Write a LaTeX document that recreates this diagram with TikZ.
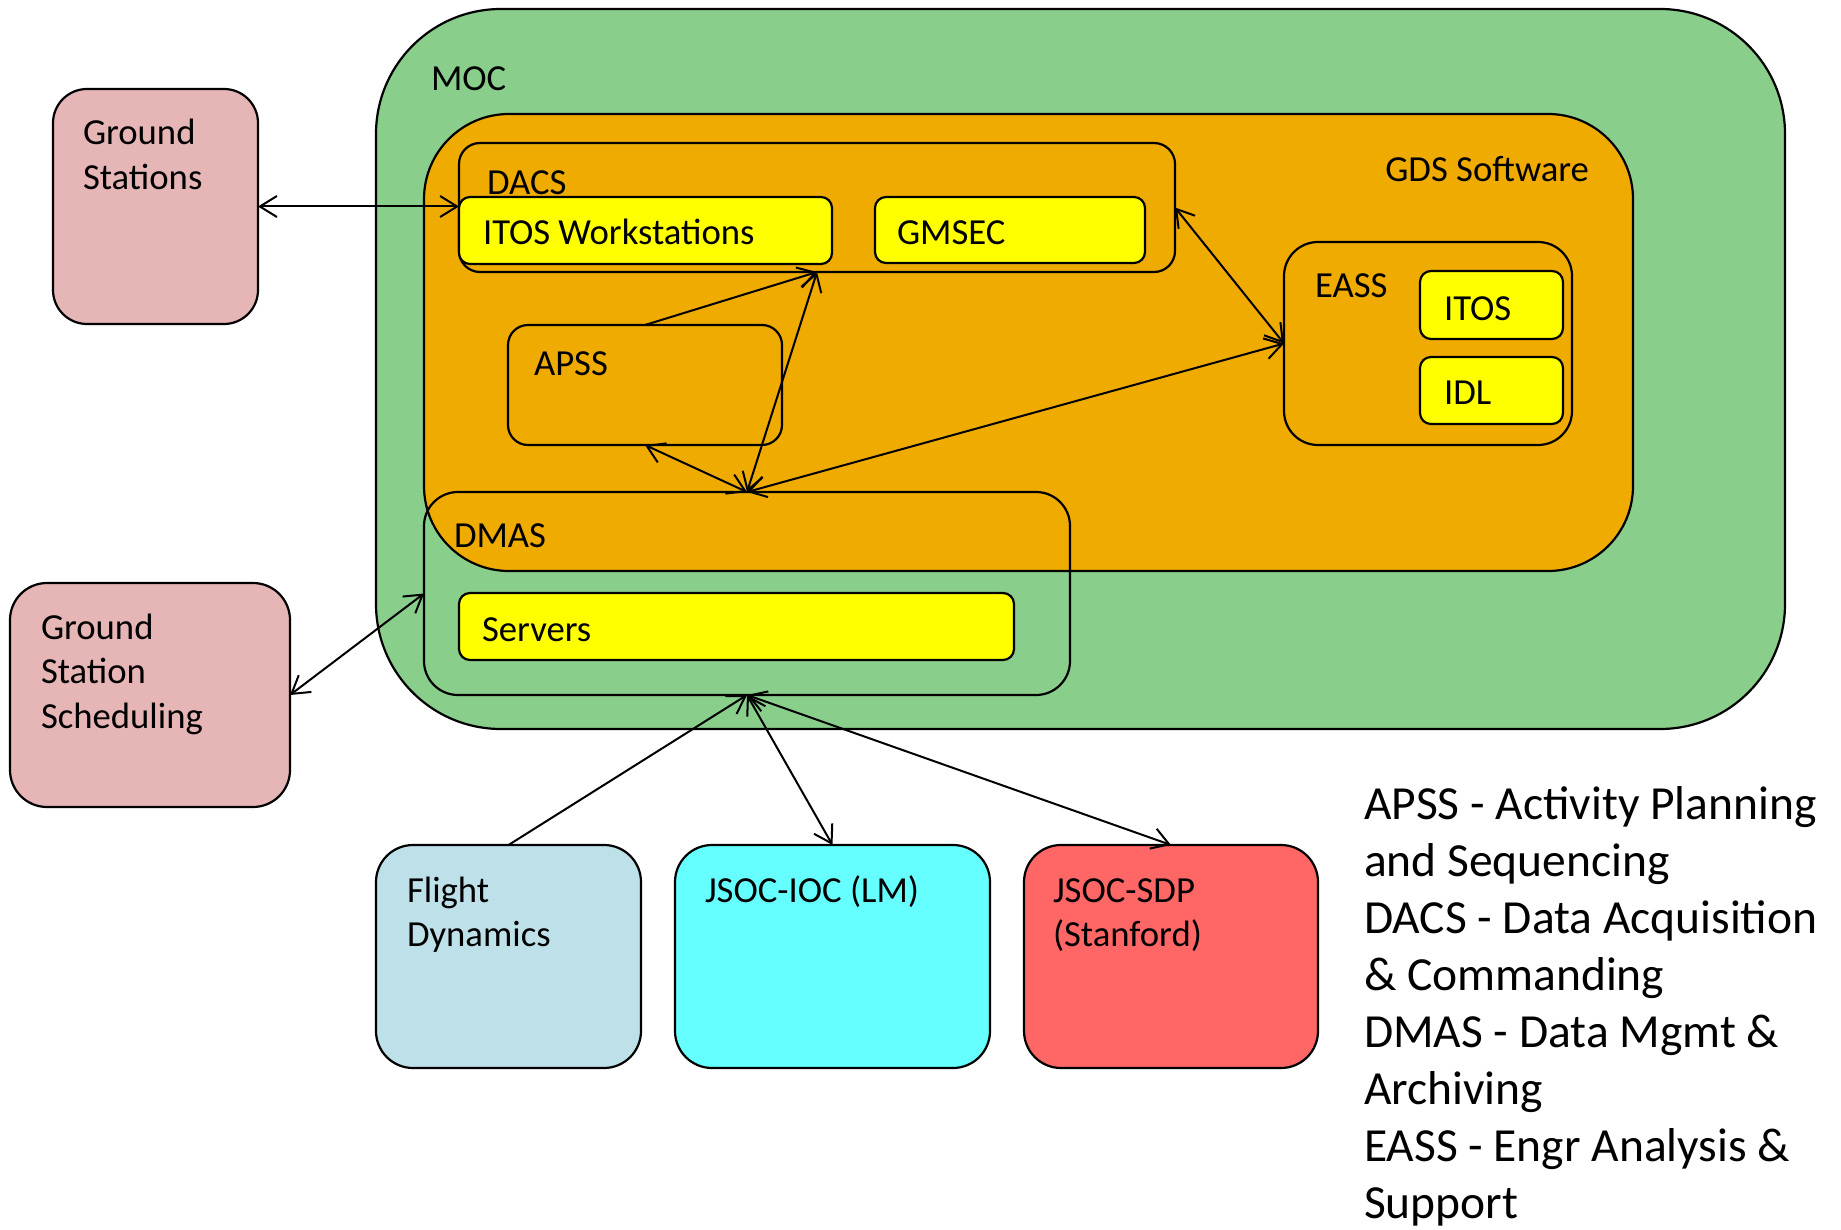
\documentclass[tikz,border=0pt]{standalone}
\usepackage{fontspec}
\setmainfont{Carlito}
\usetikzlibrary{arrows.meta}
\definecolor{mocgreen}{HTML}{8ACE8C}
\definecolor{gdsorange}{HTML}{F0AB00}
\definecolor{boxyellow}{HTML}{FFFF00}
\definecolor{pinkbox}{HTML}{E6B5B5}
\definecolor{fdblue}{HTML}{BEE0E9}
\definecolor{ioccyan}{HTML}{66FFFF}
\definecolor{sdpred}{HTML}{FF6666}
\begin{document}
\begin{tikzpicture}[x=1pt,y=-1pt,
  box/.style={draw=black, line width=2.2pt, rounded corners=#1, inner sep=0pt, outer sep=0pt, shape=rectangle},
  lbl/.style={anchor=base west, inner sep=0pt, outer sep=0pt, font=\fontsize{36.7pt}{44.8pt}\selectfont},
  lblr/.style={lbl, anchor=base east},
  lgd/.style={anchor=base west, inner sep=0pt, outer sep=0pt, font=\fontsize{47.5pt}{57.1pt}\selectfont},
  link/.style={line width=2pt, >={Straight Barb[length=17pt,width=21pt]}}
]
\useasboundingbox (0,0) rectangle (1841,1230);

% containers
\node[box=125pt, fill=mocgreen, minimum width=1409pt, minimum height=720pt] (moc) at (1080.5,369) {};
\node[box=85pt, fill=gdsorange, minimum width=1209pt, minimum height=457pt] (gds) at (1028.5,342.5) {};
\node[box=21pt, minimum width=716pt, minimum height=129pt] (dacs) at (817,207.5) {};
\node[box=11pt, fill=boxyellow, minimum width=373pt, minimum height=67pt] (itosws) at (645.5,230.5) {};
\node[box=11pt, fill=boxyellow, minimum width=270pt, minimum height=66pt] (gmsec) at (1010,230) {};
\node[box=20pt, minimum width=274pt, minimum height=120pt] (apss) at (645,385) {};
\node[box=34pt, minimum width=288pt, minimum height=203pt] (eass) at (1428,343.5) {};
\node[box=11pt, fill=boxyellow, minimum width=143pt, minimum height=68pt] (itos) at (1491.5,305) {};
\node[box=11pt, fill=boxyellow, minimum width=143pt, minimum height=67pt] (idl) at (1491.5,390.5) {};
\node[box=34pt, minimum width=646pt, minimum height=203pt] (dmas) at (747,593.5) {};
\node[box=11pt, fill=boxyellow, minimum width=555pt, minimum height=67pt] (servers) at (736.5,626.5) {};

% outside boxes
\node[box=34pt, fill=pinkbox, minimum width=205pt, minimum height=235pt] (gs) at (155.5,206.5) {};
\node[box=37pt, fill=pinkbox, minimum width=280pt, minimum height=224pt] (gss) at (150,695) {};
\node[box=37pt, fill=fdblue, minimum width=265pt, minimum height=223pt] (fd) at (508.5,956.5) {};
\node[box=37pt, fill=ioccyan, minimum width=315pt, minimum height=223pt] (ioc) at (832.5,956.5) {};
\node[box=37pt, fill=sdpred, minimum width=294pt, minimum height=223pt] (sdp) at (1171,956.5) {};

% connectors
\draw[link,<->] (gs.east) -- (dacs.west |- gs.east);
\draw[link,->] (apss.north) -- (dacs.south);
\draw[link,<->] (dacs.south) -- (dmas.north);
\draw[link,<->] (apss.south) -- (dmas.north);
\draw[link,<->] (dmas.north) -- (eass.west);
\draw[link,<->] (dacs.east) -- (eass.west);
\draw[link,<->] (gss.east) -- (dmas.west);
\draw[link,->] (fd.north) -- (dmas.south);
\draw[link,<->] (dmas.south) -- (ioc.north);
\draw[link,<->] (dmas.south) -- (sdp.north);

% labels
\node[lbl] (moclbl) at (431,91) {MOC};
\node[lblr] (gdslbl) at (1589,181.5) {GDS Software};
\node[lbl] (dacslbl) at (487,195) {DACS};
\node[lbl] (itoswslbl) at (483,245) {ITOS Workstations};
\node[lbl] (gmseclbl) at (897,245) {GMSEC};
\node[lbl] (apsslbl) at (534,375) {APSS};
\node[lbl] (easslbl) at (1315,297.5) {EASS};
\node[lbl] (itoslbl) at (1444,320.5) {ITOS};
\node[lbl] (idllbl) at (1444,404.5) {IDL};
\node[lbl] (dmaslbl) at (454,547) {DMAS};
\node[lbl] (serverslbl) at (482,641.5) {Servers};
\node[lbl] (gslbl) at (83,145) {\vtop{\hbox{Ground}\hbox{Stations}}};
\node[lbl] (gsslbl) at (41,639) {\vtop{\hbox{Ground}\hbox{Station}\hbox{Scheduling}}};
\node[lbl] (fdlbl) at (407,902) {\vtop{\hbox{Flight}\hbox{Dynamics}}};
\node[lbl] (ioclbl) at (705,902) {JSOC-IOC (LM)};
\node[lbl] (sdplbl) at (1053,902) {\vtop{\hbox{JSOC-SDP}\hbox{(Stanford)}}};
\node[lgd] (legend) at (1364,819) {\vtop{\hbox{APSS - Activity Planning}\hbox{and Sequencing}\hbox{DACS - Data Acquisition}\hbox{\& Commanding}\hbox{DMAS - Data Mgmt \&}\hbox{Archiving}\hbox{EASS - Engr Analysis \&}\hbox{Support}}};
\end{tikzpicture}
\end{document}
